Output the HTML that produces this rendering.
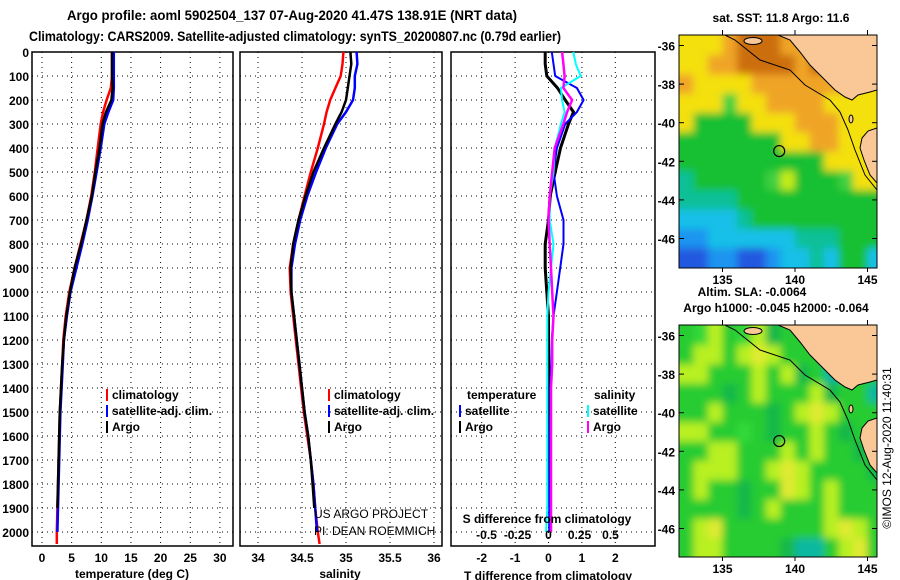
<!DOCTYPE html>
<html><head><meta charset="utf-8"><style>
html,body{margin:0;padding:0;background:#fff;width:900px;height:580px;overflow:hidden}
svg text{font-family:"Liberation Sans",Arial,sans-serif;font-weight:bold;font-size:12px;fill:#000}
</style></head><body>
<svg id="chart" width="900" height="580" viewBox="0 0 900 580" xmlns="http://www.w3.org/2000/svg">
<defs>
<filter id="blur" x="0" y="0" width="1" height="1"><feGaussianBlur stdDeviation="4"/></filter>
<clipPath id="clipTop"><rect x="679" y="35" width="198" height="233"/></clipPath>
<clipPath id="clipBot"><rect x="679" y="325" width="198" height="232"/></clipPath>
</defs>
<text x="292" y="20" text-anchor="middle" textLength="450" lengthAdjust="spacingAndGlyphs" style="font-size:14px">Argo profile: aoml 5902504_137 07-Aug-2020 41.47S 138.91E (NRT data)</text>
<text x="295" y="41" text-anchor="middle" textLength="532" lengthAdjust="spacingAndGlyphs" style="font-size:14px">Climatology: CARS2009. Satellite-adjusted climatology: synTS_20200807.nc (0.79d earlier)</text>
<g id="plots"></g>
<g id="maps"></g>
</svg>
<script>
// ---- data ----
const depths = [0,50,100,150,200,250,300,400,500,600,700,800,900,1000,1100,1200,1300,1400,1500,1600,1700,1800,1900,2000,2050];
const tempClim = [11.8,11.8,11.8,11.6,10.9,10.3,9.9,9.4,8.9,8.3,7.5,6.5,5.5,4.6,4.0,3.6,3.4,3.2,3.0,2.9,2.8,2.7,2.6,2.5,2.5];
const tempSat = [12.1,12.1,12.1,12.1,12.0,11.2,10.5,9.9,9.2,8.5,7.7,6.8,5.8,4.8,4.2,3.7,3.5,3.3,3.1,3.0,2.9,2.8,2.7,2.6];
const tempArgo = [11.8,11.8,11.8,11.9,11.7,10.8,10.2,9.7,9.0,8.4,7.5,6.6,5.5,4.7,4.1,3.7,3.4,3.2,3.0,2.9,2.8,2.7,2.6];
const salClim = [34.97,34.96,34.94,34.88,34.82,34.78,34.75,34.68,34.6,34.53,34.46,34.40,34.36,34.37,34.40,34.43,34.46,34.49,34.52,34.56,34.6,34.63,34.65,34.68,34.70];
const salSat = [35.12,35.13,35.1,35.1,35.08,35.0,34.9,34.77,34.66,34.56,34.48,34.42,34.38,34.38,34.41,34.44,34.47,34.5,34.53,34.57,34.6,34.63,34.65,34.67];
const salArgo = [35.05,35.06,35.04,35.02,35.0,34.95,34.88,34.75,34.63,34.54,34.46,34.40,34.37,34.38,34.41,34.44,34.47,34.5,34.53,34.57,34.6,34.62,34.64];
const tDiffClim = [-0.1,-0.1,-0.05,0.27,0.5,0.75,0.6,0.36,0.2,0.05,0,-0.1,-0.1,-0.05,0,0,0,0,0,0,0,0,0];
const tDiffSat = [0.1,0.15,0.2,0.85,1.05,0.85,0.5,0.25,0.15,0.25,0.45,0.45,0.35,0.25,0.15,0.1,0.08,0.05,0.05,0.04,0.04,0.03,0.02,0.02];
const sDiffSat = [0.2,0.22,0.26,0.1,0.11,0.13,0.1,0.05,0.04,0.01,0.01,0.04,0.02,0,-0.01,-0.01,-0.01,-0.01,-0.01,-0.01,-0.01,-0.01,-0.01,-0.02];
const sDiffClim = [0.11,0.12,0.13,0.12,0.19,0.15,0.12,0.05,0.03,0.01,0,0.01,0.02,0.03,0.04,0.03,0.03,0.02,0.02,0.02,0.02,0.02,0.02,0.02];
const depthTicks = [0,100,200,300,400,500,600,700,800,900,1000,1100,1200,1300,1400,1500,1600,1700,1800,1900,2000];
const tempTicks = [0,5,10,15,20,25,30];
const salTicks = [34,34.5,35,35.5,36];
const tDiffTicks = [-2,-1,0,1,2];
const sDiffTicks = [-0.5,-0.25,0,0.25,0.5];
// map colour grids (1 deg cells, lon 132-146, lat -35.5 to -47.5)
const sstGrid = ["yyyoOOOooooooo","yyooOOOOoOoooo","oyyyyoooooooyy","yyyGyyooooyyyy","yggggyyyoooyyy","gggggggyyooyyy","ggggggggggyyyy","tgggggGYgggGyy","ttttgggggggggg","cccctggggggggg","bbcccccctttggg","BBbbBBbcctcggc"];
const slaGrid = ["gGYgGYdgggtggg","gYYgYyYgggtggg","YYgggYgYdgtggg","gggdgYgggYdggt","ggYgggdgYyYggg","YYggGgdggYgdgg","ggYYgggYgYggdg","gYYYggYyYggggd","gYggdggyYgYggg","ggggdgYgggYggg","gYygggggggYyYg","gYYggggdttgYyg"];

const NS='http://www.w3.org/2000/svg';
function mk(tag, attrs, parent, txt){const e=document.createElementNS(NS,tag);for(const k in attrs)e.setAttribute(k,attrs[k]);if(txt!==undefined)e.textContent=txt;parent.appendChild(e);return e;}
const plots=document.getElementById('plots');
const maps=document.getElementById('maps');
const TOP=52, BOT=546;
const yD = d => TOP + d*0.24;
const xT = t => 42 + t*5.93;
const xS = s => 258 + (s-34)*88;
const xTD = t => 548.5 + t*33.4;
const xSD = s => 548.5 + s*124;

function frame(x0,x1,xticks,xf,name){
  const g=mk('g',{},plots);
  
  
  depthTicks.forEach(d=>{ if(d>0){ const l=mk('line',{x1:x0,x2:x1,y1:yD(d),y2:yD(d),stroke:'#000','stroke-width':1,'stroke-dasharray':'1,4'},g);
    
     }});
  xticks.forEach(v=>{ const x=xf(v); const l=mk('line',{x1:x,x2:x,y1:TOP,y2:BOT,stroke:'#000','stroke-width':1,'stroke-dasharray':'1,4'},g);
    
    
    const t=mk('text',{x:x,y:562,'text-anchor':'middle'},g,String(v));
    
    
  });
  const r=mk('rect',{x:x0,y:TOP,width:x1-x0,height:BOT-TOP,fill:'none',stroke:'#000','stroke-width':1.5},g);
  
  
  return g;
}
function line(g, vals, xf, color, w, name){
  let pts=[];
  for(let i=0;i<vals.length;i++){ pts.push(xf(vals[i]).toFixed(1)+','+yD(depths[i]).toFixed(1)); }
  const p=mk('polyline',{points:pts.join(' '),fill:'none',stroke:color,'stroke-width':w,'stroke-linejoin':'round'},g);
  
  
}
function legend(g,x,y,color,label){
  const l=mk('line',{x1:x,x2:x,y1:y-10,y2:y+2,stroke:color,'stroke-width':2},g);
  
  
  const t=mk('text',{x:x+5,y:y},g,label);
  
  
}
depthTicks.forEach(d=>{ const t=mk('text',{x:29,y:yD(d)+5,'text-anchor':'end'},plots,String(d));
  
   });

// panel 1
const g1=frame(32,233,tempTicks,xT,'temperature-panel');
line(g1,tempClim,xT,'#f00',2.5,'temperature-climatology-line');
line(g1,tempSat,xT,'#00f',2.5,'temperature-satellite-line');
line(g1,tempArgo,xT,'#000',2.5,'temperature-argo-line');
legend(g1,107,399,'#f00','climatology');
legend(g1,107,415,'#00f','satellite-adj. clim.');
legend(g1,107,431,'#000','Argo');
let at=mk('text',{x:132,y:578,'text-anchor':'middle'},plots,'temperature (deg C)');



// panel 2
const g2=frame(240,442,salTicks,xS,'salinity-panel');
line(g2,salClim,xS,'#f00',2.5,'salinity-climatology-line');
line(g2,salSat,xS,'#00f',2.5,'salinity-satellite-line');
line(g2,salArgo,xS,'#000',2.5,'salinity-argo-line');
legend(g2,329,399,'#f00','climatology');
legend(g2,329,415,'#00f','satellite-adj. clim.');
legend(g2,329,431,'#000','Argo');
at=mk('text',{x:340,y:578,'text-anchor':'middle'},plots,'salinity');


let c1=mk('text',{x:314,y:518,style:'font-weight:normal;font-size:12px'},plots,'US ARGO PROJECT');


let c2=mk('text',{x:314,y:535,style:'font-weight:normal;font-size:12px'},plots,'PI: DEAN ROEMMICH');



// panel 3
const g3=frame(451,655,tDiffTicks,xTD,'difference-panel');
line(g3,tDiffClim,xTD,'#000',3,'t-diff-climatology-line');
line(g3,tDiffSat,xTD,'#00f',2,'t-diff-satellite-line');
line(g3,sDiffSat,xSD,'#0ff',2,'s-diff-satellite-line');
line(g3,sDiffClim,xSD,'#f0f',2.5,'s-diff-climatology-line');
let lt=mk('text',{x:467,y:399},g3,'temperature');


let ls=mk('text',{x:594,y:399},g3,'salinity');


legend(g3,460,415,'#00f','satellite');
legend(g3,460,431,'#000','Argo');
legend(g3,588,415,'#0ff','satellite');
legend(g3,588,431,'#f0f','Argo');
let st=mk('text',{x:547,y:523,'text-anchor':'middle'},g3,'S difference from climatology');


sDiffTicks.forEach(v=>{ const t=mk('text',{x:xSD(v),y:539,'text-anchor':'middle'},g3,String(v));
  
   });
at=mk('text',{x:548,y:580,'text-anchor':'middle'},plots,'T difference from climatology');



// ---- maps ----
const sstPal={O:'#cc6e10',o:'#f0a428',y:'#f4e010',Y:'#c4ec18',G:'#40d040',g:'#18c030',t:'#10c098',c:'#18c0e8',b:'#1c94f0',B:'#2458e0'};
const slaPal={g:'#28cc30',G:'#30d838',d:'#18b848',Y:'#b8f020',y:'#e0ea30',t:'#10b8a0'};
function drawMap(y0,grid,pal,clip,name){
  const g=mk('g',{},maps);
  
  
  const inner=mk('g',{'clip-path':'url(#'+clip+')'},g);
  const img=mk('g',{filter:'url(#blur)'},inner);
  const lonX = lon => 679 + (lon-132)*14.5;
  const latY = lat => y0 + 10.5 + (-36-lat)*19.3;
  
  
  mk('rect',{x:670,y:y0-10,width:220,height:260,fill:pal[grid[5][5]]},img);
  for(let r=0;r<grid.length;r++){ for(let c=0;c<grid[r].length;c++){
    const x=lonX(132+c), y=latY(-35.5-r);
    mk('rect',{x:x-(c==0?10:0),y:y-(r==0?10:0),width:14.6+(c==0||c==13?10:0),height:19.4+(r==0||r==11?10:0),fill:pal[grid[r][c]]},img);
  }}
  const dy=y0-35;
  mk('polyline',{points:[[725,35],[735,40],[760,60],[790,70],[805,85],[830,100],[840,112],[848,130],[855,150],[865,175],[877,190]].map(p=>p[0]+','+(p[1]+dy)).join(' '),fill:'none',stroke:'#000','stroke-width':1},inner);
  const land=mk('polygon',{points:[[778,35],[790,40],[800,52],[810,65],[820,75],[835,90],[845,97],[852,100],[858,95],[870,92],[877,90],[877,35]].map(p=>p[0]+','+(p[1]+dy)).join(' '),fill:'#f9c896',stroke:'#000','stroke-width':1},inner);
  
  
  const tas=mk('polygon',{points:[[877,128],[868,131],[862,138],[860,148],[864,160],[870,175],[877,183]].map(p=>p[0]+','+(p[1]+dy)).join(' '),fill:'#f9c896',stroke:'#000','stroke-width':1},inner);
  
  
  mk('ellipse',{cx:753,cy:41+dy,rx:9,ry:3.5,fill:'#f9c896',stroke:'#000','stroke-width':1},inner);
  mk('ellipse',{cx:851,cy:119+dy,rx:2,ry:4,fill:'#f9c896',stroke:'#000','stroke-width':1},inner);
  const circ=mk('circle',{cx:lonX(138.91),cy:latY(-41.47),r:5.5,fill:'none',stroke:'#000','stroke-width':1.2},g);
  
  
  const h=(clip=='clipTop'?233:232);
  mk('rect',{x:679,y:y0,width:198,height:h,fill:'none',stroke:'#000','stroke-width':1},g);
  [-36,-38,-40,-42,-44,-46].forEach(lat=>{ const y=latY(lat);
    mk('line',{x1:679,x2:684,y1:y,y2:y,stroke:'#000'},g); mk('line',{x1:872,x2:877,y1:y,y2:y,stroke:'#000'},g);
    const t=mk('text',{x:675,y:y+5,'text-anchor':'end'},g,String(lat));
    
     });
  [135,140,145].forEach(lon=>{ const x=lonX(lon);
    mk('line',{x1:x,x2:x,y1:y0,y2:y0-5,stroke:'#000'},g); mk('line',{x1:x,x2:x,y1:y0+h,y2:y0+h+4,stroke:'#000'},g);
    const t=mk('text',{x:x,y:y0+h+16,'text-anchor':'middle'},g,String(lon));
    
     });
}
drawMap(35,sstGrid,sstPal,'clipTop','sst-map');
drawMap(325,slaGrid,slaPal,'clipBot','sla-map');
let mt=mk('text',{x:781,y:22,'text-anchor':'middle'},maps,'sat. SST: 11.8 Argo: 11.6');


mt=mk('text',{x:752,y:296,'text-anchor':'middle'},maps,'Altim. SLA: -0.0064');


mt=mk('text',{x:776,y:312,'text-anchor':'middle'},maps,'Argo h1000: -0.045 h2000: -0.064');


mt=mk('text',{x:0,y:0,transform:'translate(891,448) rotate(-90)','text-anchor':'middle',style:'font-weight:normal;font-size:12px'},maps,'©IMOS 12-Aug-2020 11:40:31');


</script>
</body></html>
